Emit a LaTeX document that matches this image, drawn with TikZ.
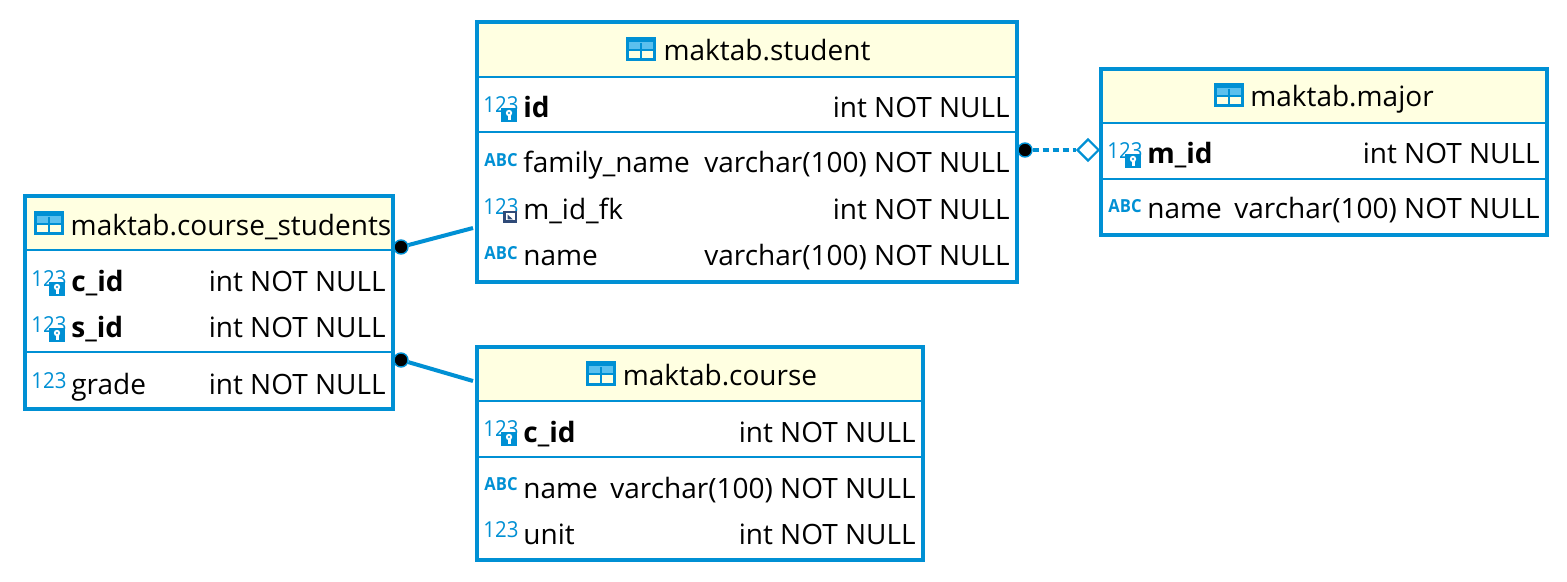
\documentclass[tikz,border=0pt]{standalone}
\usepackage{fontspec}
\setmainfont{Open Sans}
\usetikzlibrary{shapes.geometric}
\definecolor{erblue}{HTML}{0090D4}
\definecolor{hdr}{HTML}{FFFFE1}
\definecolor{iconlight}{HTML}{5BC0EE}
\definecolor{fknavy}{HTML}{2F4A78}
\newcommand{\tf}{\fontsize{14}{16}\selectfont}
\newcommand{\ticon}[2]{%
  \begin{scope}[shift={(#1,#2)}]
    \fill[iconlight] (0,-10) rectangle (27,1);
    \draw[erblue,line width=1.5pt] (0,-10) rectangle (27,11);
    \draw[erblue,line width=1pt] (0,1) -- (27,1) (13.5,-6) -- (13.5,11);
    \draw[erblue,line width=2pt] (0,-9) -- (27,-9);
  \end{scope}}
\newcommand{\inum}[2]{\node[icontext] at (#1+16,#2-2.5) {\scalebox{.93}[1]{123}};}
\newcommand{\iabc}[2]{\node[icontext,font=\fontsize{9}{10}\selectfont\bfseries] at (#1+16,#2-1.5) {\scalebox{.92}[1]{ABC}};}
\newcommand{\ikey}[2]{\inum{#1}{#2}%
  \fill[erblue] (#1+16,#2+1) rectangle (#1+32,#2+15);
  \fill[white] (#1+24,#2+6) circle (3.2);
  \fill[erblue] (#1+24,#2+6) circle (1.2);
  \fill[white] (#1+23,#2+8) rectangle (#1+26,#2+13);}
\newcommand{\ifk}[2]{\inum{#1}{#2}%
  \fill[fknavy] (#1+18,#2+2) rectangle (#1+32,#2+14);
  \fill[white] (#1+20.5,#2+4.5) rectangle (#1+29.5,#2+11.5);
  \fill[fknavy] (#1+22.5,#2+5.5) -- (#1+28,#2+10.5) -- (#1+22.5,#2+10.5) -- cycle;}
\tikzset{
  x=0.5pt,y=-0.5pt,
  icontext/.style={text=erblue,font=\fontsize{11}{12}\selectfont,inner sep=0pt},
  tablebox/.style={draw=erblue,line width=2pt,inner sep=0pt,outer sep=0pt},
  rule/.style={draw=erblue,line width=1.3pt},
  title/.style={font=\tf,anchor=base,inner sep=0pt,yshift=-0.5pt},
  cname/.style={font=\tf,anchor=base west,inner sep=0pt,yshift=-0.5pt},
  kname/.style={font=\tf\bfseries,anchor=base west,inner sep=0pt,yshift=-0.5pt},
  ctype/.style={font=\tf,anchor=base east,inner sep=0pt,yshift=-0.5pt},
  conn/.style={draw=erblue,line width=2pt},
  fkdot/.style={circle,fill=black,draw=erblue,line width=0.7pt,minimum size=7pt,inner sep=0pt},
  fkdiamond/.style={diamond,aspect=1,draw=erblue,fill=white,line width=1.1pt,minimum size=11pt,inner sep=0pt},
}
\begin{document}
\begin{tikzpicture}
\useasboundingbox (0,0) rectangle (1567,582);
\fill[white] (0,0) rectangle (1567,582);

% student
\fill[hdr] (477,22) rectangle (1017,77);
\draw[tablebox] (477,22) rectangle (1017,282);
\draw[rule] (477,77) -- (1017,77) (477,132) -- (1017,132);
\ticon{627}{49}
\node[title] (st) at (767,60) {maktab.student};
\ikey{485}{107}
\node[kname] (st1) at (523,117) {id};
\node[ctype] (st1t) at (1010,117) {int NOT NULL};
\iabc{485}{162}
\node[cname] (st2) at (523,172) {family\_name};
\node[ctype] (st2t) at (1010,172) {varchar(100) NOT NULL};
\ifk{485}{209}
\node[cname] (st3) at (523,219) {m\_id\_fk};
\node[ctype] (st3t) at (1010,219) {int NOT NULL};
\iabc{485}{255}
\node[cname] (st4) at (523,265) {name};
\node[ctype] (st4t) at (1010,265) {varchar(100) NOT NULL};

% major
\fill[hdr] (1101,69) rectangle (1547,123);
\draw[tablebox] (1101,69) rectangle (1547,235);
\draw[rule] (1101,123) -- (1547,123) (1101,179) -- (1547,179);
\ticon{1215}{95}
\node[title] (mj) at (1342,106) {maktab.major};
\ikey{1109}{153}
\node[kname] (mj1) at (1147,163) {m\_id};
\node[ctype] (mj1t) at (1540,163) {int NOT NULL};
\iabc{1109}{208}
\node[cname] (mj2) at (1147,218) {name};
\node[ctype] (mj2t) at (1540,218) {varchar(100) NOT NULL};

% course_students
\fill[hdr] (25,196) rectangle (393,250);
\draw[tablebox] (25,196) rectangle (393,409);
\draw[rule] (25,250) -- (393,250) (25,352) -- (393,352);
\ticon{35}{223}
\node[title] (cs) at (231,235) {maktab.course\_students};
\ikey{33}{281}
\node[kname] (cs1) at (71,291) {c\_id};
\node[ctype] (cs1t) at (386,291) {int NOT NULL};
\ikey{33}{327}
\node[kname] (cs2) at (71,337) {s\_id};
\node[ctype] (cs2t) at (386,337) {int NOT NULL};
\inum{33}{383}
\node[cname] (cs3) at (71,393) {grade};
\node[ctype] (cs3t) at (386,393) {int NOT NULL};

% course
\fill[hdr] (477,347) rectangle (923,401);
\draw[tablebox] (477,347) rectangle (923,560);
\draw[rule] (477,401) -- (923,401) (477,457) -- (923,457);
\ticon{587}{373}
\node[title] (co) at (720,385) {maktab.course};
\ikey{485}{431}
\node[kname] (co1) at (523,441) {c\_id};
\node[ctype] (co1t) at (916,441) {int NOT NULL};
\iabc{485}{486}
\node[cname] (co2) at (523,497) {name};
\node[ctype] (co2t) at (916,497) {varchar(100) NOT NULL};
\inum{485}{532}
\node[cname] (co3) at (523,543) {unit};
\node[ctype] (co3t) at (916,543) {int NOT NULL};

% connectors
\node[fkdot] (d1) at (401,247) {};
\coordinate (e1) at (473,228);
\draw[conn] (d1) -- (e1);
\node[fkdot] (d2) at (401,360) {};
\coordinate (e2) at (473,381);
\draw[conn] (d2) -- (e2);
\node[fkdot] (d3) at (1025,150) {};
\node[fkdiamond] (m3) at (1088,150) {};
\draw[conn,dash pattern=on 3pt off 2pt] (d3) -- (m3);
\end{tikzpicture}
\end{document}
